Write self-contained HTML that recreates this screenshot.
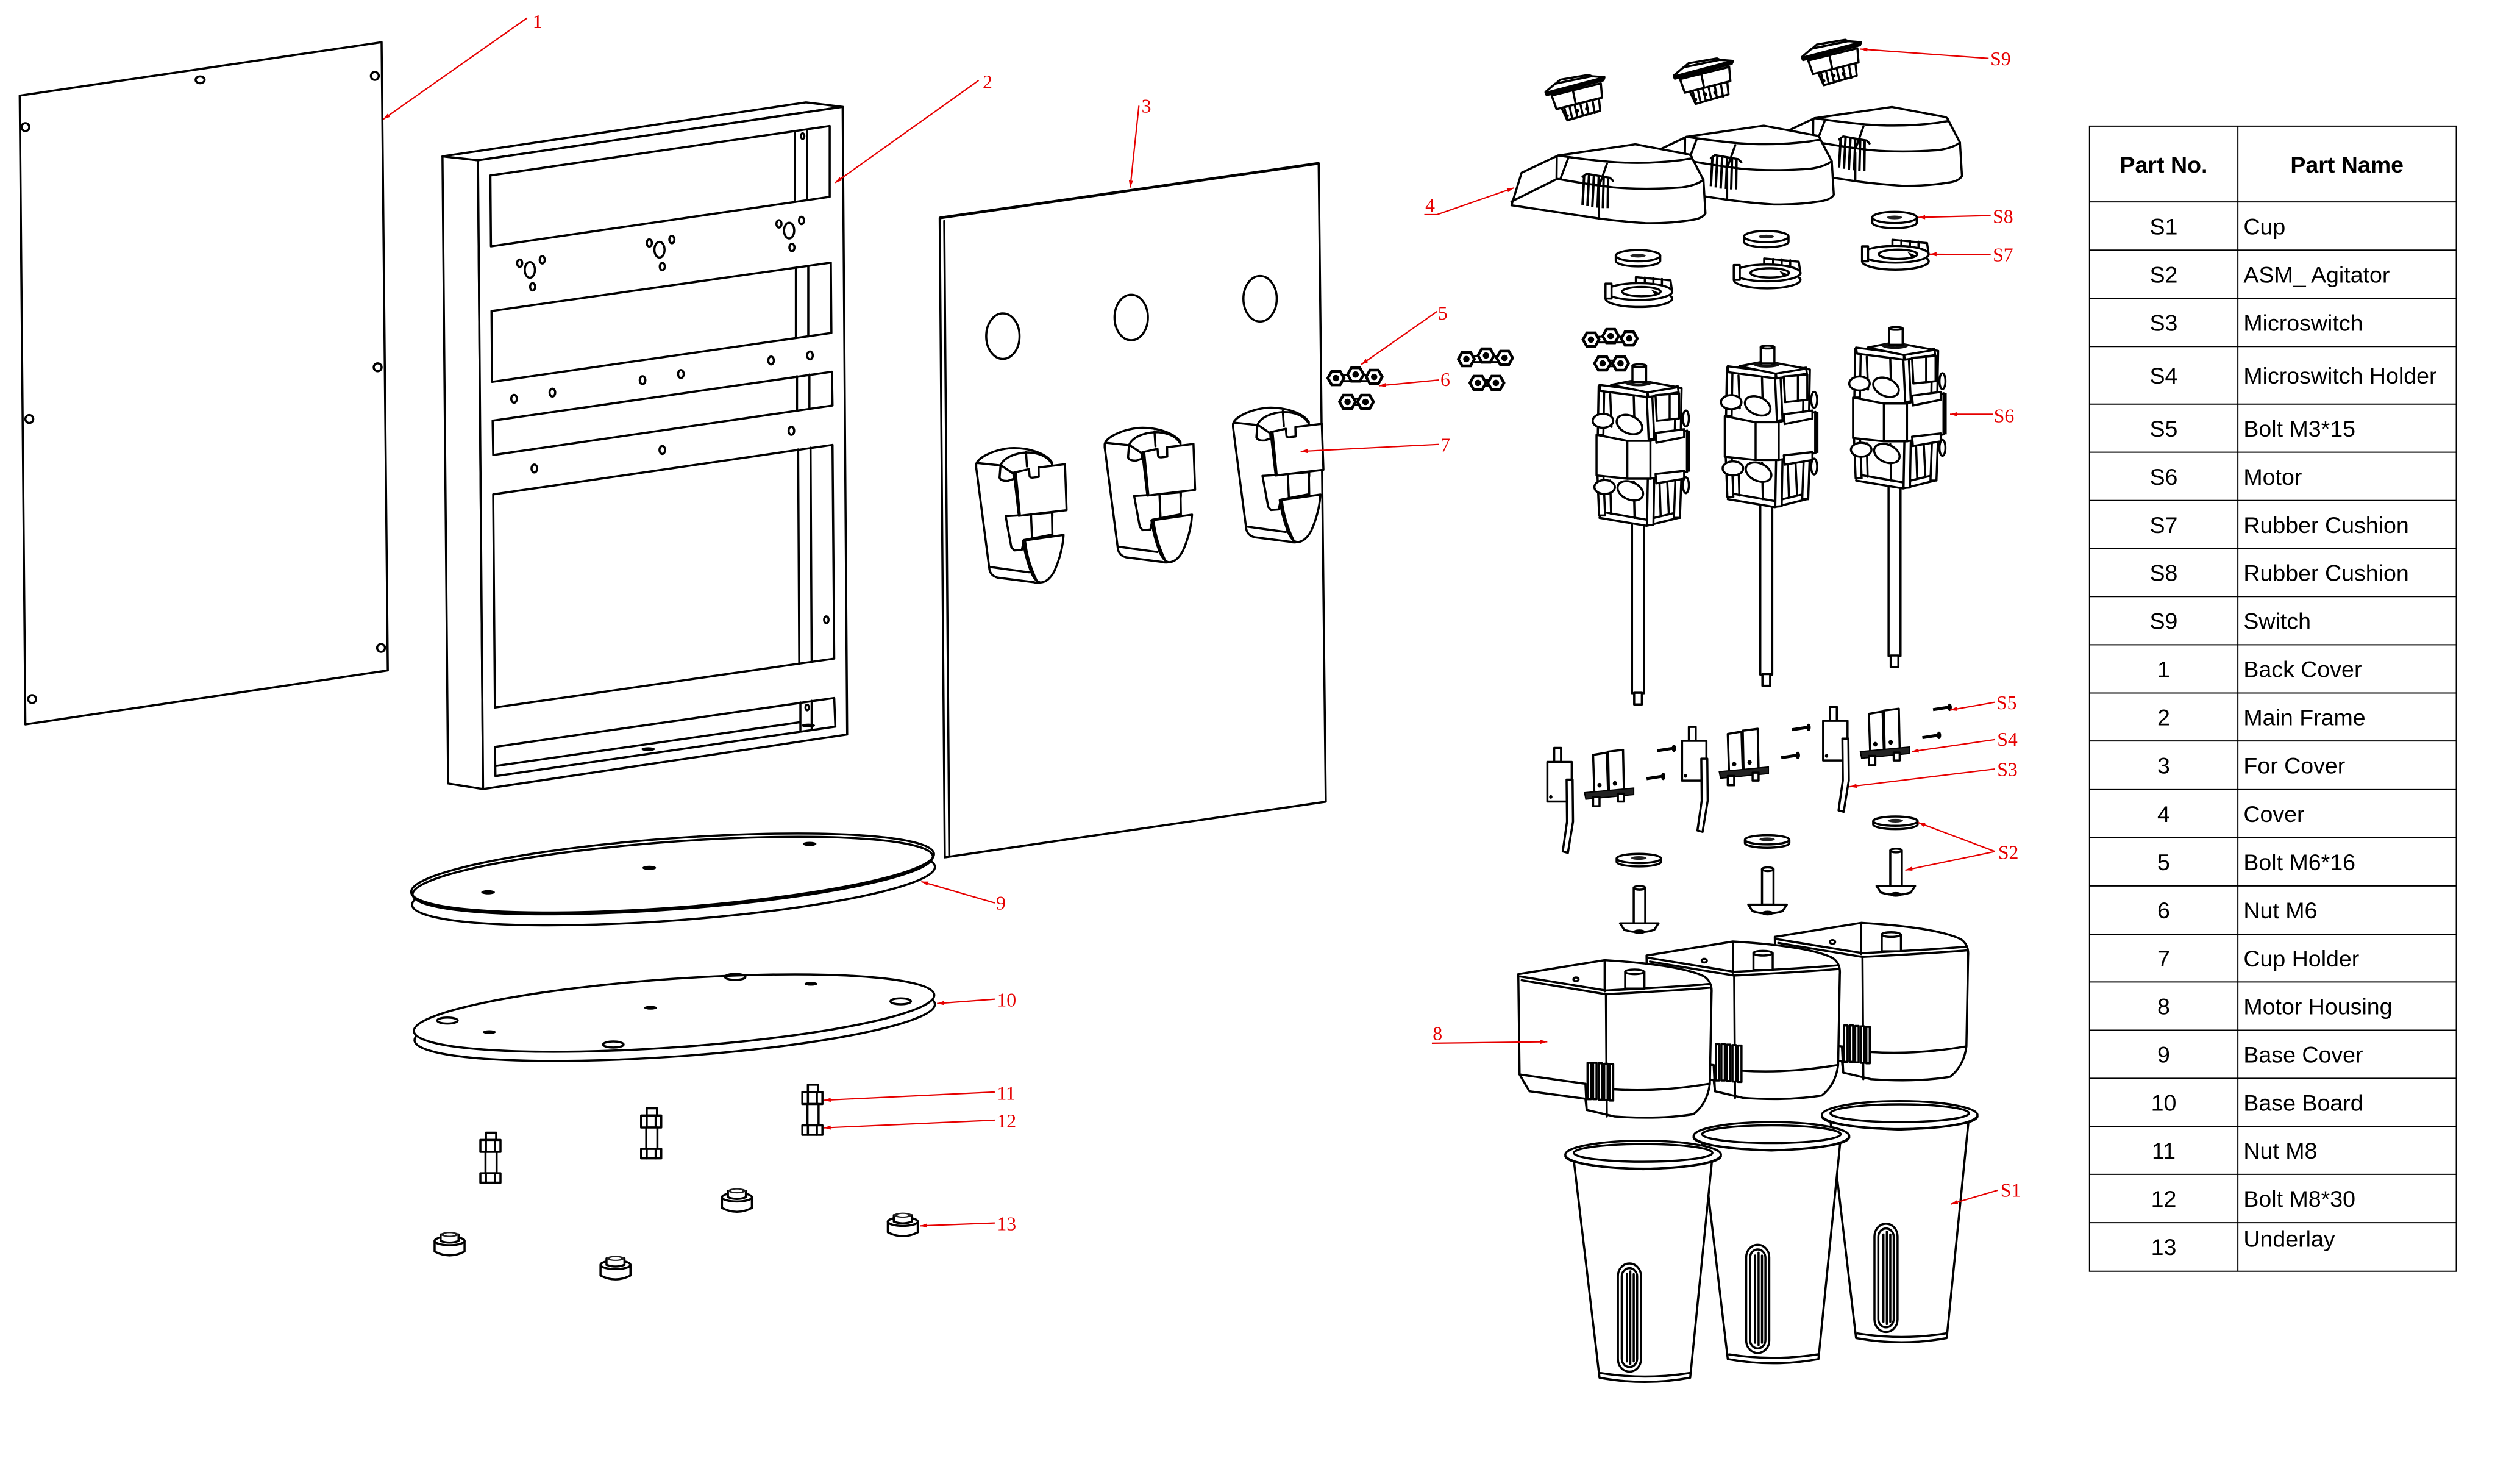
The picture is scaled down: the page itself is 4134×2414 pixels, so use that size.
<!DOCTYPE html>
<html><head><meta charset="utf-8"><style>
html,body{margin:0;padding:0;background:#fff;}
svg{display:block;}
svg *{vector-effect:non-scaling-stroke;}
.k{fill:none;stroke:#000;stroke-width:3.5;stroke-linejoin:round;stroke-linecap:round;}
.w{fill:#fff;stroke:#000;stroke-width:3.5;stroke-linejoin:round;}
.t{fill:none;stroke:#000;stroke-width:2;}
.d{fill:#111;stroke:#000;stroke-width:2;}
.r{fill:none;stroke:#e60000;stroke-width:2.2;}
.lb{font-family:"Liberation Serif",serif;font-size:12px;fill:#e60000;}
.tb{font-family:"Liberation Sans",Arial,sans-serif;font-size:14.2px;fill:#000;}
.th{font-family:"Liberation Sans",Arial,sans-serif;font-size:14.2px;font-weight:bold;fill:#000;}
</style></head><body>
<svg xmlns="http://www.w3.org/2000/svg" xmlns:xlink="http://www.w3.org/1999/xlink" width="4134" height="2414" viewBox="0 0 1563 915" preserveAspectRatio="none">
<defs>
<marker id="ar" viewBox="0 0 10 6" refX="10" refY="3" markerWidth="6" markerHeight="2.6" orient="auto" markerUnits="userSpaceOnUse"><path d="M0,0 L10,3 L0,6 Z" fill="#e60000"/></marker>

<!-- hex nut (overview units) -->
<g id="nt"><polygon points="-5,0 -2.6,-4.2 2.6,-4.2 5,0 2.6,4.2 -2.6,4.2" fill="#fff" stroke="#000" stroke-width="4.5"/><circle r="2" fill="#000"/></g>
<g id="ng">
<rect x="0" y="-1.8" width="24" height="3.6" fill="#fff" stroke="#000" stroke-width="3"/>
<use xlink:href="#nt" x="0" y="0"/><use xlink:href="#nt" x="12.2" y="-2.2"/><use xlink:href="#nt" x="23.7" y="-0.7"/>
<rect x="7" y="13" width="11" height="3.6" fill="#fff" stroke="#000" stroke-width="3"/>
<use xlink:href="#nt" x="7.2" y="14.8"/><use xlink:href="#nt" x="18.3" y="14.8"/>
</g>

<!-- cup holder (zoom-9 coords) -->
<g id="hd">
<path class="w" d="M95,125 C100,95 170,55 260,45 C350,40 440,70 468,115 L470,380 L420,700 Q405,712 380,705 L200,682 Q165,672 160,640 L95,140 Z"/>
<path class="k" d="M100,118 L215,130"/>
<path class="k" d="M215,130 C230,90 290,68 345,66 C400,66 445,85 465,118"/>
<path class="k" d="M340,62 L345,135"/>
<path class="k" d="M165,630 L355,656"/>
<path class="w" d="M215,128 L210,190 Q215,207 250,206 L280,196 L278,170 Z"/>
<path class="w" d="M240,380 L305,376 L468,362 L470,470 L330,497 L320,545 L282,548 L268,532 Z"/>
<path class="k" d="M365,378 L370,490"/>
<path class="w" d="M280,165 L355,148 L358,183 Q360,192 380,189 L403,186 L402,140 L532,124 L540,350 L305,378 Z"/>
<path class="k" d="M290,170 L310,376"/>
<path class="w" d="M325,500 L525,472 Q520,560 480,650 Q450,706 410,706 Q380,700 360,640 Q335,570 325,500 Z"/>
<path class="k" d="M336,505 Q346,600 395,702"/>
</g>

<!-- cover 4 (zoom-10 coords) -->
<g id="cv">
<path class="w" d="M60,680 L110,520 L290,435 L670,380 L935,430 Q948,438 950,450 L1005,555 L1015,720 Q1000,745 950,752 Q840,770 720,768 Q600,760 490,745 Z"/>
<path class="k" d="M290,435 Q420,455 540,466 Q720,480 895,458 Q935,450 950,450"/>
<path class="k" d="M60,662 L285,550 Q420,575 560,592 Q720,606 900,592 Q970,582 1005,555"/>
<path class="k" d="M283,445 L282,550 M340,447 L300,553 M530,476 L495,575 M490,605 L490,745"/>
<path d="M418,532 L410,678 M442,528 L434,684 M466,532 L458,690 M490,538 L484,692 M514,542 L510,694 M536,548 L534,694" fill="none" stroke="#000" stroke-width="4"/>
<path class="k" d="M410,540 L430,525 L545,545 L560,560"/>
</g>

<!-- switch S9 (zoom-10 coords) -->
<g id="sw">
<polygon class="w" points="305,198 490,150 497,215 335,262"/>
<path class="k" d="M322,205 L334,258 M347,198 L359,252 M372,192 L385,246 M400,185 L412,239 M430,178 L440,232 M460,170 L470,226"/>
<circle cx="383" cy="215" r="10" fill="#000"/><circle cx="432" cy="205" r="10" fill="#000"/><circle cx="335" cy="240" r="8" fill="#000"/>
<polygon class="w" points="258,140 500,80 506,150 282,207"/>
<path class="k" d="M362,112 L376,180"/>
<polygon class="w" points="228,122 275,82 455,45 518,50 513,65 233,138"/>
<path class="k" d="M275,84 L300,62 L440,38 L458,46"/>
<path d="M224,130 L520,52" stroke="#000" stroke-width="5" fill="none"/>
</g>

<!-- motor S6 (zoom-5 coords) -->
<g id="mot">
<rect class="w" x="1096" y="1040" width="28" height="366"/>
<rect class="w" x="1101" y="1405" width="18" height="25"/>
<!-- lower bracket -->
<path class="w" d="M1020,1030 L1130,1047 L1205,1030 L1202,1018 L1130,1034 L1024,1017 Z"/>
<path class="w" d="M1015,935 L1029,935 L1033,1025 L1019,1025 Z"/>
<path class="w" d="M1133,945 L1148,943 L1146,1045 L1131,1046 Z"/>
<path class="w" d="M1198,932 L1212,930 L1208,1030 L1194,1030 Z"/>
<path class="k" d="M1045,950 L1047,1022 M1100,952 L1102,1030 M1160,945 L1163,1025 M1178,945 L1182,1020"/>
<ellipse class="w" cx="1032" cy="964" rx="24" ry="15"/>
<ellipse class="w" cx="1092" cy="972" rx="31" ry="19" transform="rotate(20 1092 972)"/>
<ellipse class="w" cx="1222" cy="960" rx="7" ry="17"/>
<!-- upper bracket -->
<path class="w" d="M1018,748 L1031,750 L1029,852 L1016,852 Z"/>
<path class="w" d="M1130,760 L1143,760 L1148,860 L1135,862 Z"/>
<path class="w" d="M1198,750 L1212,752 L1210,847 L1196,847 Z"/>
<path class="w" d="M1020,745 L1132,758 L1132,771 L1022,758 Z"/>
<path class="w" d="M1132,758 L1203,748 L1205,761 L1134,771 Z"/>
<path class="k" d="M1045,765 L1048,835 M1100,770 L1102,840"/>
<ellipse class="w" cx="1028" cy="822" rx="24" ry="15"/>
<ellipse class="w" cx="1090" cy="830" rx="31" ry="19" transform="rotate(20 1090 830)"/>
<ellipse class="w" cx="1222" cy="817" rx="7" ry="17"/>
<polygon class="w" points="1151,767 1206,763 1206,817 1154,822"/>
<path class="k" d="M1184,765 L1184,819"/>
<!-- stator -->
<path class="w" d="M1013,852 L1085,865 L1139,865 L1225,843 L1225,931 L1139,946 L1085,946 L1013,939 Z"/>
<path class="k" d="M1085,865 L1085,946 M1139,865 L1139,946"/>
<rect x="1222" y="843" width="10" height="88" fill="#000"/>
<polygon class="w" points="1151,848 1218,840 1218,857 1153,869"/>
<polygon class="w" points="1151,936 1218,929 1218,946 1153,956"/>
<!-- top -->
<polygon class="w" points="1047,745 1108,734 1203,750 1132,761"/>
<ellipse cx="1111" cy="741" rx="31" ry="7" fill="#111"/>
<ellipse cx="1111" cy="739" rx="14" ry="3.5" fill="#fff"/>
<rect class="w" x="1097" y="704" width="32" height="35"/>
<ellipse class="w" cx="1113" cy="704" rx="16" ry="3"/>
</g>

<!-- S8 (zoom-5 coords) -->
<g id="s8">
<path class="w" d="M1058,466 L1058,477 A52,12 0 0 0 1162,477 L1162,466"/>
<ellipse class="w" cx="1110" cy="466" rx="52" ry="12"/>
<ellipse cx="1110" cy="466" rx="18" ry="4" fill="#222"/>
</g>
<!-- S7 (zoom-5 coords) -->
<g id="s7">
<polygon class="w" points="1105,538 1105,514 1186,521 1190,546"/>
<path class="k" d="M1126,515 L1126,538 M1146,516 L1146,540 M1166,518 L1166,542"/>
<ellipse class="w" cx="1112" cy="560" rx="78" ry="18"/>
<ellipse class="w" cx="1112" cy="545" rx="78" ry="18"/>
<ellipse class="k" cx="1118" cy="545" rx="45" ry="10"/>
<rect class="w" x="1034" y="528" width="14" height="32"/>
<path d="M1140,540 L1160,548 L1150,552 Z" fill="#000"/>
</g>

<!-- microswitch set (zoom-6 coords) -->
<g id="ms">
<rect class="w" x="314" y="100" width="16" height="30"/>
<rect class="w" x="298" y="130" width="57" height="85"/>
<circle cx="306" cy="205" r="4" fill="#000"/>
<path class="w" d="M343,168 L357,168 L358,258 L346,325 L334,322 L344,258 Z"/>
<polygon class="w" points="405,115 437,110 440,195 408,200"/>
<polygon class="w" points="440,108 475,104 477,190 442,195"/>
<polygon points="385,196 500,186 500,200 388,210" fill="#222" stroke="#000" stroke-width="2"/>
<rect class="w" x="405" y="205" width="15" height="20"/>
<rect class="w" x="463" y="198" width="14" height="17"/>
<circle cx="420" cy="180" r="5" fill="#000"/><circle cx="456" cy="176" r="5" fill="#000"/>
<path d="M555,106 L590,101 M530,166 L565,161" stroke="#000" stroke-width="5" fill="none"/>
<ellipse cx="594" cy="101" rx="5" ry="8" fill="#000"/><ellipse cx="569" cy="161" rx="5" ry="8" fill="#000"/>
</g>

<!-- agitator (zoom-6 coords) -->
<g id="ag">
<path class="w" d="M460,337 L460,344 A52,10 0 0 0 564,344 L564,337"/>
<ellipse class="w" cx="512" cy="337" rx="52" ry="10"/>
<ellipse cx="512" cy="336" rx="18" ry="4" fill="#222"/>
<rect class="w" x="500" y="400" width="27" height="76"/>
<ellipse class="w" cx="513.5" cy="400" rx="13.5" ry="4"/>
<path class="w" d="M468,476 L558,476 L548,490 Q513,500 478,490 Z"/>
<ellipse cx="513" cy="494" rx="14" ry="5" fill="#000"/>
</g>

<!-- motor housing (zoom-6 coords) -->
<g id="hs">
<path class="w" d="M230,585 L432,555 Q610,565 665,590 Q684,602 682,625 L678,820 Q672,862 640,885 Q560,897 455,890 L390,876 L387,852 L256,836 L233,800 Z"/>
<path class="k" d="M235,590 L435,620 Q600,612 678,606"/>
<path class="k" d="M238,598 L435,628 Q600,620 678,614"/>
<path class="k" d="M432,556 L432,622"/>
<rect class="w" x="480" y="580" width="45" height="36"/>
<ellipse class="w" cx="502" cy="580" rx="22" ry="5"/>
<path class="k" d="M435,628 L437,890"/>
<path class="k" d="M455,832 Q560,838 676,820"/>
<path class="k" d="M233,800 L387,820"/>
<path class="k" d="M387,820 L390,876"/>
<rect class="w" x="392" y="775" width="8" height="78" stroke-width="2.5"/>
<rect class="w" x="405" y="775" width="8" height="78" stroke-width="2.5"/>
<rect class="w" x="418" y="776" width="8" height="78" stroke-width="2.5"/>
<rect class="w" x="431" y="777" width="8" height="78" stroke-width="2.5"/>
<rect class="w" x="444" y="778" width="8" height="78" stroke-width="2.5"/>
<ellipse class="k" cx="365" cy="596" rx="6" ry="4"/>
</g>

<!-- cup (zoom-6 coords) -->
<g id="cp">
<path class="w" d="M360,985 L420,1450 Q526,1468 632,1450 L683,985 Z"/>
<path class="k" d="M423,1440 Q526,1455 630,1440"/>
<ellipse class="w" cx="522" cy="972" rx="182" ry="30"/>
<path class="k" d="M340,975 Q345,996 522,1003 Q700,996 704,975"/>
<ellipse class="k" cx="522" cy="968" rx="162" ry="19"/>
<rect class="k" x="463" y="1205" width="54" height="232" rx="27" ry="27"/>
<rect class="k" x="472" y="1215" width="36" height="212" rx="18" ry="18" stroke-width="2"/>
<path class="k" d="M484,1228 L484,1415 M492,1222 L492,1420 M500,1228 L500,1415" stroke-width="2"/>
</g>

<!-- bolt 11/12 (zoom-7 coords) -->
<g id="bt">
<rect class="w" x="963" y="640" width="24" height="17"/>
<rect class="w" x="950" y="657" width="47" height="28"/>
<path class="k" d="M963,657 L963,685 M984,657 L984,685"/>
<rect class="w" x="962" y="685" width="26" height="50"/>
<rect class="w" x="950" y="735" width="47" height="22"/>
<path class="k" d="M963,735 L963,757 M984,735 L984,757"/>
</g>
<!-- underlay 13 (zoom-7 coords) -->
<g id="ul">
<path class="w" d="M762,903 L762,928 Q797,946 832,928 L832,903 Z"/>
<ellipse class="w" cx="797" cy="903" rx="35" ry="10"/>
<path class="w" d="M776,888 L776,903 Q797,911 818,903 L818,888 Z"/>
<ellipse cx="797" cy="888" rx="21" ry="6" fill="#222"/>
<ellipse cx="797" cy="888" rx="13" ry="3" fill="#fff"/>
</g>
</defs>

<rect x="0" y="0" width="1563" height="915" fill="#fff"/>

<!-- ===== Back cover (1) & Main frame (2) ===== -->
<g transform="scale(0.3496)">
<polygon class="k" points="35,170 677,75 688,1192 45,1288"/>
<g class="k" stroke-width="2.5">
<ellipse cx="355" cy="142" rx="8" ry="6"/><ellipse cx="665" cy="135" rx="7" ry="7"/>
<ellipse cx="45" cy="226" rx="7" ry="7"/><ellipse cx="670" cy="653" rx="7" ry="7"/>
<ellipse cx="52" cy="745" rx="7" ry="7"/><ellipse cx="676" cy="1152" rx="7" ry="7"/>
<ellipse cx="57" cy="1243" rx="7" ry="7"/>
</g>
<polygon class="w" points="785,278 848,285 857,1403 795,1393"/>
<polygon class="w" points="785,278 1430,182 1495,190 848,285"/>
<polygon class="w" points="848,285 1495,190 1503,1306 857,1403"/>
<polygon class="k" points="870,312 1472,224 1472,350 871,438"/>
<polygon class="k" points="872,553 1474,467 1475,592 873,679"/>
<polygon class="k" points="874,748 1476,661 1477,721 875,809"/>
<polygon class="k" points="875,879 1477,791 1480,1171 878,1258"/>
<polygon class="k" points="878,1328 1480,1241 1482,1292 879,1380"/>
<path class="k" stroke-width="2.5" d="M1410,233 L1410,359 M1432,230 L1432,356 M1412,476 L1412,601 M1434,473 L1434,598 M1414,669 L1414,730 M1436,666 L1436,727 M1416,799 L1418,1180 M1438,796 L1440,1177 M1420,1249 L1420,1300 M1440,1246 L1440,1297 M879,1362 L1420,1284"/>
<g class="k" stroke-width="2.5">
<ellipse cx="940" cy="480" rx="9" ry="14"/><ellipse cx="922" cy="468" rx="4.5" ry="6.5"/><ellipse cx="962" cy="462" rx="4.5" ry="6.5"/><ellipse cx="945" cy="510" rx="4.5" ry="6.5"/>
<ellipse cx="1170" cy="444" rx="9" ry="14"/><ellipse cx="1152" cy="432" rx="4.5" ry="6.5"/><ellipse cx="1192" cy="426" rx="4.5" ry="6.5"/><ellipse cx="1175" cy="474" rx="4.5" ry="6.5"/>
<ellipse cx="1400" cy="410" rx="9" ry="14"/><ellipse cx="1382" cy="398" rx="4.5" ry="6.5"/><ellipse cx="1422" cy="392" rx="4.5" ry="6.5"/><ellipse cx="1405" cy="440" rx="4.5" ry="6.5"/>
<ellipse cx="912" cy="709" rx="5" ry="7"/><ellipse cx="980" cy="698" rx="5" ry="7"/><ellipse cx="1140" cy="676" rx="5" ry="7"/><ellipse cx="1208" cy="665" rx="5" ry="7"/><ellipse cx="1368" cy="641" rx="5" ry="7"/><ellipse cx="1437" cy="632" rx="5" ry="7"/>
<ellipse cx="948" cy="833" rx="5" ry="7"/><ellipse cx="1175" cy="800" rx="5" ry="7"/><ellipse cx="1404" cy="766" rx="5" ry="7"/><ellipse cx="1466" cy="1102" rx="4" ry="6"/><ellipse cx="1424" cy="242" rx="3" ry="5"/><ellipse cx="1432" cy="1258" rx="3" ry="5"/>
</g>
<ellipse cx="1150" cy="1332" rx="12" ry="3.5" fill="#000"/><ellipse cx="1434" cy="1290" rx="12" ry="3.5" fill="#000"/>
</g>

<!-- ===== Front cover (3) ===== -->
<g transform="translate(549,56.9) scale(0.3134,0.3142)">
<polygon class="w" points="108,250 858,142 872,1405 118,1515"/>
<path class="k" stroke-width="2" d="M117,256 L127,1512"/>
<path d="M108,250 L858,142" stroke="#000" stroke-width="4.5" fill="none"/>
<ellipse class="k" cx="233" cy="484" rx="33" ry="45"/>
<ellipse class="k" cx="487" cy="447" rx="33" ry="45"/>
<ellipse class="k" cx="742" cy="410" rx="33" ry="45"/>
</g>

<!-- Cup holders (7) -->
<g transform="translate(593.5,272.9) scale(0.126,0.1263)"><use xlink:href="#hd"/></g>
<g transform="translate(673.2,260.3) scale(0.126,0.1263)"><use xlink:href="#hd"/></g>
<g transform="translate(752.8,247.8) scale(0.126,0.1263)"><use xlink:href="#hd"/></g>

<!-- Bolts / nuts (5,6) -->
<use xlink:href="#ng" x="828.6" y="235"/>
<use xlink:href="#ng" x="909.5" y="223.2"/>
<use xlink:href="#ng" x="986.8" y="211.1"/>

<!-- ===== Covers (4) & switches (S9) ===== -->
<g transform="translate(929.9,41.7) scale(0.126,0.1263)">
<use xlink:href="#cv" transform="translate(1262.7,-183.7)"/>
<use xlink:href="#cv" transform="translate(631.7,-91.8)"/>
<use xlink:href="#cv"/>
<use xlink:href="#sw"/>
<use xlink:href="#sw" transform="translate(631.7,-80.8)"/>
<use xlink:href="#sw" transform="translate(1262.7,-172.6)"/>
</g>

<!-- ===== Motors, S7, S8 ===== -->
<g transform="translate(880.7,0) scale(0.2652,0.29)">
<use xlink:href="#s8"/><use xlink:href="#s8" transform="translate(-300,41)"/><use xlink:href="#s8" transform="translate(-600,82)"/>
<use xlink:href="#s7"/><use xlink:href="#s7" transform="translate(-300,40)"/><use xlink:href="#s7" transform="translate(-600,80)"/>
<use xlink:href="#mot"/><use xlink:href="#mot" transform="translate(-300,40)"/><use xlink:href="#mot" transform="translate(-600,80)"/>
</g>

<!-- ===== Switch sets, agitators, housings, cups ===== -->
<g transform="translate(880.7,435.9) scale(0.2652,0.29)">
<use xlink:href="#ms"/><use xlink:href="#ms" transform="translate(315,-45)"/><use xlink:href="#ms" transform="translate(645,-88)"/>
<use xlink:href="#ag"/><use xlink:href="#ag" transform="translate(300,-40)"/><use xlink:href="#ag" transform="translate(600,-80)"/>
<use xlink:href="#hs" transform="translate(600,-80)"/><use xlink:href="#hs" transform="translate(300,-40)"/><use xlink:href="#hs"/>
<use xlink:href="#cp" transform="translate(600,-85)"/><use xlink:href="#cp" transform="translate(300,-40)"/><use xlink:href="#cp"/>
</g>

<!-- ===== Base cover (9), base board (10), bolts, underlays ===== -->
<g transform="translate(245.7,504.1) scale(0.2652,0.2659)">
<g transform="rotate(-4.2 646.5 145)">
<ellipse class="w" cx="646.5" cy="175" rx="613" ry="81"/>
<ellipse class="w" cx="646.5" cy="145" rx="613" ry="81"/>
<ellipse class="k" cx="646.5" cy="151" rx="610" ry="79" stroke-width="1.5"/>
</g>
<ellipse cx="215" cy="190" rx="16" ry="5" fill="#000"/><ellipse cx="592" cy="133" rx="16" ry="5" fill="#000"/><ellipse cx="967" cy="77" rx="16" ry="5" fill="#000"/>
<g transform="rotate(-4 650 472.5)">
<ellipse class="w" cx="650" cy="494" rx="610" ry="80"/>
<ellipse class="w" cx="650" cy="472.5" rx="610" ry="80"/>
</g>
<ellipse cx="218" cy="517" rx="15" ry="4.5" fill="#000"/><ellipse cx="595" cy="460" rx="15" ry="4.5" fill="#000"/><ellipse cx="970" cy="404" rx="15" ry="4.5" fill="#000"/>
<g class="k" stroke-width="2.5">
<ellipse cx="120" cy="490" rx="24" ry="7"/><ellipse cx="508" cy="546" rx="24" ry="7"/><ellipse cx="793" cy="388" rx="24" ry="7"/><ellipse cx="1180" cy="445" rx="24" ry="7"/>
</g>
<use xlink:href="#bt"/><use xlink:href="#bt" transform="translate(-377,55)"/><use xlink:href="#bt" transform="translate(-753,112)"/>
<use xlink:href="#ul"/><use xlink:href="#ul" transform="translate(388,57)"/><use xlink:href="#ul" transform="translate(-672,102)"/><use xlink:href="#ul" transform="translate(-284,158)"/>
</g>

<!-- ===== Red callouts ===== -->
<g class="r">
<path d="M326.9,11.2 L237.7,74.1" marker-end="url(#ar)"/>
<path d="M607,50 L518,113.6" marker-end="url(#ar)"/>
<path d="M706.4,65.7 L701,116.6" marker-end="url(#ar)"/>
<path d="M883.4,133.4 L891.3,133.4 L939,116.8" marker-end="url(#ar)"/>
<path d="M891.5,193.5 L844.3,226.6" marker-end="url(#ar)"/>
<path d="M892.6,236.2 L855.2,239.8" marker-end="url(#ar)"/>
<path d="M892.6,276.2 L806.7,280.6" marker-end="url(#ar)"/>
<path d="M888.1,648.5 L959.7,647.6" marker-end="url(#ar)"/>
<path d="M617,561.3 L571.4,548" marker-end="url(#ar)"/>
<path d="M617,621.1 L581.2,623.8" marker-end="url(#ar)"/>
<path d="M617,678.8 L510.9,683.9" marker-end="url(#ar)"/>
<path d="M617,696.3 L510.9,701.1" marker-end="url(#ar)"/>
<path d="M617,760.2 L570.6,762" marker-end="url(#ar)"/>
<path d="M1233.4,36.3 L1153.9,30.5" marker-end="url(#ar)"/>
<path d="M1234.7,134 L1189.7,135.1" marker-end="url(#ar)"/>
<path d="M1234.7,158.3 L1196.8,158" marker-end="url(#ar)"/>
<path d="M1236,257.5 L1209.5,257.5" marker-end="url(#ar)"/>
<path d="M1237.4,436.5 L1209.5,441.4" marker-end="url(#ar)"/>
<path d="M1237.4,459.7 L1185.7,467.2" marker-end="url(#ar)"/>
<path d="M1237.4,478 L1147.2,489" marker-end="url(#ar)"/>
<path d="M1237.4,529.3 L1189.7,511.3" marker-end="url(#ar)"/>
<path d="M1237.4,529.3 L1181.7,540.9" marker-end="url(#ar)"/>
<path d="M1239.2,739.8 L1210,748.5" marker-end="url(#ar)"/>
</g>
<g class="lb">
<text x="330.4" y="17.5">1</text>
<text x="609.5" y="55">2</text>
<text x="708" y="70">3</text>
<text x="884" y="131.5">4</text>
<text x="891.8" y="198.7">5</text>
<text x="893.4" y="240">6</text>
<text x="893.4" y="280.7">7</text>
<text x="888.6" y="646.5">8</text>
<text x="617.8" y="565.3">9</text>
<text x="618.3" y="625.6">10</text>
<text x="618.3" y="683.6">11</text>
<text x="618.3" y="700.9">12</text>
<text x="618.3" y="764.7">13</text>
<text x="1234.5" y="40.6">S9</text>
<text x="1236" y="138.6">S8</text>
<text x="1236" y="162.4">S7</text>
<text x="1236.6" y="262.5">S6</text>
<text x="1238.2" y="440.8">S5</text>
<text x="1238.7" y="463.5">S4</text>
<text x="1238.7" y="482.3">S3</text>
<text x="1239.3" y="533.9">S2</text>
<text x="1240.8" y="743.9">S1</text>
</g>

<!-- ===== Parts table ===== -->
<g class="t" stroke-width="2.5">
<rect x="1296" y="78.4" width="227.5" height="711.8"/>
<path d="M1388,78.4 L1388,790.2 M1296,125.5 L1523.5,125.5 M1296,155.5 L1523.5,155.5 M1296,185.4 L1523.5,185.4 M1296,215.4 L1523.5,215.4 M1296,251.2 L1523.5,251.2 M1296,281.1 L1523.5,281.1 M1296,311.1 L1523.5,311.1 M1296,341 L1523.5,341 M1296,370.8 L1523.5,370.8 M1296,400.8 L1523.5,400.8 M1296,430.8 L1523.5,430.8 M1296,460.6 L1523.5,460.6 M1296,490.8 L1523.5,490.8 M1296,520.7 L1523.5,520.7 M1296,550.7 L1523.5,550.7 M1296,580.7 L1523.5,580.7 M1296,610.4 L1523.5,610.4 M1296,640.4 L1523.5,640.4 M1296,670.3 L1523.5,670.3 M1296,700.1 L1523.5,700.1 M1296,730 L1523.5,730 M1296,760 L1523.5,760"/>
</g>
<text class="th" x="1342" y="107.3" text-anchor="middle">Part No.</text>
<text class="th" x="1455.7" y="107.3" text-anchor="middle">Part Name</text>
<g class="tb" text-anchor="middle">
<text x="1342" y="145.7">S1</text>
<text x="1342" y="175.6">S2</text>
<text x="1342" y="205.6">S3</text>
<text x="1342" y="238.5">S4</text>
<text x="1342" y="271.3">S5</text>
<text x="1342" y="301.3">S6</text>
<text x="1342" y="331.2">S7</text>
<text x="1342" y="361.1">S8</text>
<text x="1342" y="391">S9</text>
<text x="1342" y="421">1</text>
<text x="1342" y="450.9">2</text>
<text x="1342" y="480.9">3</text>
<text x="1342" y="510.9">4</text>
<text x="1342" y="540.9">5</text>
<text x="1342" y="570.9">6</text>
<text x="1342" y="600.7">7</text>
<text x="1342" y="630.6">8</text>
<text x="1342" y="660.5">9</text>
<text x="1342" y="690.4">10</text>
<text x="1342" y="720.2">11</text>
<text x="1342" y="750.2">12</text>
<text x="1342" y="780.1">13</text>
</g>
<g class="tb">
<text x="1391.5" y="145.7">Cup</text>
<text x="1391.5" y="175.6">ASM_ Agitator</text>
<text x="1391.5" y="205.6">Microswitch</text>
<text x="1391.5" y="238.5">Microswitch Holder</text>
<text x="1391.5" y="271.3">Bolt M3*15</text>
<text x="1391.5" y="301.3">Motor</text>
<text x="1391.5" y="331.2">Rubber Cushion</text>
<text x="1391.5" y="361.1">Rubber Cushion</text>
<text x="1391.5" y="391">Switch</text>
<text x="1391.5" y="421">Back Cover</text>
<text x="1391.5" y="450.9">Main Frame</text>
<text x="1391.5" y="480.9">For Cover</text>
<text x="1391.5" y="510.9">Cover</text>
<text x="1391.5" y="540.9">Bolt M6*16</text>
<text x="1391.5" y="570.9">Nut M6</text>
<text x="1391.5" y="600.7">Cup Holder</text>
<text x="1391.5" y="630.6">Motor Housing</text>
<text x="1391.5" y="660.5">Base Cover</text>
<text x="1391.5" y="690.4">Base Board</text>
<text x="1391.5" y="720.2">Nut M8</text>
<text x="1391.5" y="750.2">Bolt M8*30</text>
<text x="1391.5" y="775">Underlay</text>
</g>
</svg>
</body></html>
